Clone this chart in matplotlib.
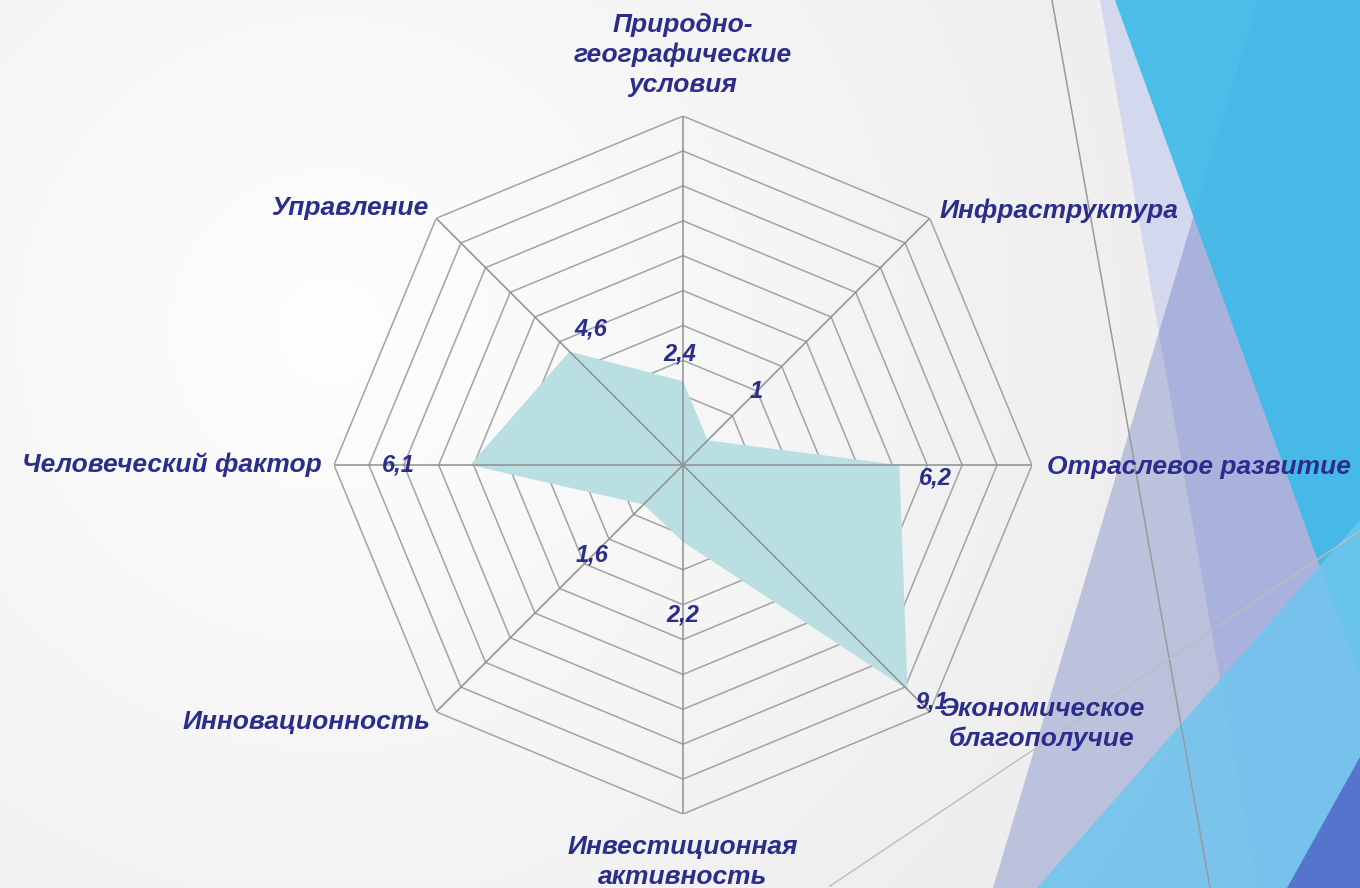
import numpy as np
import matplotlib
matplotlib.use("Agg")
import matplotlib.pyplot as plt
from matplotlib.patches import Polygon

plt.rcParams['font.family'] = ['Liberation Sans', 'DejaVu Sans']

# data
categories = ["Природно-\nгеографические\nусловия", "Инфраструктура", "Отраслевое развитие",
              "Экономическое\nблагополучие", "Инвестиционная\nактивность", "Инновационность",
              "Человеческий фактор", "Управление"]
values = [2.4, 1, 6.2, 9.1, 2.2, 1.6, 6.1, 4.6]
rings = list(range(1, 11))

# label placement (pixels from the axis end / the data point)
cat_offsets = [(0, 61), (10, 8), (15, -2), (112, -12), (0, -48), (-6, -10), (-12, 0), (-8, 10)]
cat_ha = ["center", "left", "left", "center", "center", "right", "right", "right"]
val_offsets = [(-3, 27), (49, 49), (36, -13), (24, -12), (0, -73), (-51, -50), (-72, 0), (21, 23)]

text_col = "#2b2d8c"
grid_col = "#a3a3a3"
fill_col = "#b9dfe3"

fig = plt.figure(figsize=(13.6, 8.88), dpi=100)

# background: soft grey gradient + blue slide decoration on the right
bg = fig.add_axes([0, 0, 1, 1])
bg.set_xlim(0, 1360)
bg.set_ylim(888, 0)
bg.axis("off")
yy, xx = np.mgrid[0:888, 0:1360]
d = np.sqrt((xx - 330.0) ** 2 + (yy - 330.0) ** 2)
shade = 254 - np.clip(d / 1100.0, 0, 1) * 21
img = np.dstack([shade, shade, shade]) / 255.0
bg.imshow(img, extent=(0, 1360, 888, 0), zorder=0)

bg.add_patch(Polygon([(1100, 0), (1360, 0), (1360, 888), (1257, 888)], closed=True,
                     color="#d3d8ee", lw=0, zorder=1))
bg.add_patch(Polygon([(1258, 0), (1360, 0), (1360, 888), (993, 888)], closed=True,
                     color="#4b5cb7", alpha=0.3, lw=0, zorder=2))
bg.add_patch(Polygon([(1115, 0), (1360, 0), (1360, 677)], closed=True,
                     color="#3cbae8", alpha=0.9, lw=0, zorder=3))
bg.add_patch(Polygon([(1037, 888), (1360, 520), (1360, 888)], closed=True,
                     color="#6fc6ef", alpha=0.85, lw=0, zorder=4))
bg.add_patch(Polygon([(1287, 888), (1360, 757), (1360, 888)], closed=True,
                     color="#5575cc", lw=0, zorder=5))
bg.plot([1052, 1210], [0, 888], color="#9a9a9a", lw=1.1, zorder=6)
bg.plot([830, 1360], [886, 531], color="#bdbdbd", lw=1.0, zorder=6)

# radar chart
ax = fig.add_axes([0.2456, 0.0833, 0.5132, 0.786], projection="polar")
ax.set_facecolor("none")
ax.set_theta_zero_location("N")
ax.set_theta_direction(-1)
ax.set_ylim(0, 10)
ax.grid(False)
ax.spines["polar"].set_visible(False)
ax.set_xticks([])
ax.set_yticks([])

n = len(categories)
angles = np.linspace(0, 2 * np.pi, n, endpoint=False)
closed = np.append(angles, angles[0])

for r in rings:
    ax.plot(closed, [r] * (n + 1), color=grid_col, lw=1.1, zorder=1)

ax.fill(closed, values + values[:1], color=fill_col, lw=0, zorder=2)

for a in angles:
    ax.plot([a, a], [0, rings[-1]], color="#8f8f8f", lw=1.1, zorder=3)

for a, v, off in zip(angles, values, val_offsets):
    ax.annotate(str(v).replace(".", ","), xy=(a, v), xytext=off, textcoords="offset pixels",
                ha="center", va="center", fontsize=17, fontweight="bold", fontstyle="italic",
                color=text_col, zorder=5)

for a, lab, off, ha in zip(angles, categories, cat_offsets, cat_ha):
    ax.annotate(lab, xy=(a, rings[-1]), xytext=off, textcoords="offset pixels",
                ha=ha, va="center", multialignment="center", fontsize=19,
                fontweight="bold", fontstyle="italic", color=text_col,
                linespacing=1.28, annotation_clip=False, zorder=5)

fig.savefig("out.png", dpi=100)
